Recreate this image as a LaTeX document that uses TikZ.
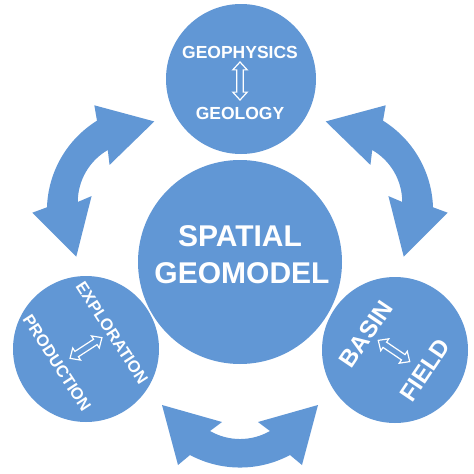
\documentclass[tikz,border=0pt]{standalone}
\usepackage{fontspec}
\setmainfont{Liberation Sans}
\usetikzlibrary{shapes.arrows}
\definecolor{geoblue}{RGB}{97,151,213}
\tikzset{
  bubble/.style={circle, fill=geoblue, draw=none, inner sep=0pt},
  lbl/.style={text=white, font=\bfseries, inner sep=0pt},
  dbl/.style={double arrow, fill=geoblue, draw=white, line width=1.2pt,
    minimum height=38pt, inner sep=2.6pt, double arrow head extend=4pt,
    double arrow tip angle=85},
  bigarrow/.style={fill=geoblue, draw=none}
}
\begin{document}
\begin{tikzpicture}[x=1pt,y=-1pt]
\fill[white] (0,0) rectangle (474,474);
\useasboundingbox (0,0) rectangle (474,474);

% curved double arrows (one template, rotated)
\foreach \ang in {0,120,-120}{
  \begin{scope}[rotate around={\ang:(240,261)}]
    \path[bigarrow] (162,405) -- (222,422) -- (210,431)
      .. controls (228.6,441.7) and (251.4,441.7) .. (270,431)
      -- (258,422) -- (318,405) -- (302,465) -- (290,455)
      .. controls (258.8,471.7) and (221.2,471.7) .. (190,455)
      -- (178,465) -- cycle;
  \end{scope}
}

% circles
\node[bubble, minimum size=204pt] (centre) at (240,262) {};
\node[bubble, minimum size=150pt] (top) at (241,79) {};
\node[bubble, minimum size=146pt] (left) at (86,349) {};
\node[bubble, minimum size=146pt] (right) at (395,350) {};

% centre text
\node[lbl, anchor=base, font=\bfseries\fontsize{30}{36}\selectfont] (spatial) at (240,246) {SPATIAL};
\node[lbl, anchor=base, font=\bfseries\fontsize{30}{36}\selectfont] (geomodel) at (242,283) {GEOMODEL};

% top circle
\node[lbl, anchor=base, font=\bfseries\fontsize{17.5}{21}\selectfont] (geoph) at (240,58) {GEOPHYSICS};
\node[lbl, anchor=base, font=\bfseries\fontsize{17.5}{21}\selectfont] (geol) at (240,119) {GEOLOGY};
\node[dbl, rotate=90] (toparrow) at (240,81) {};

% left circle
\node[lbl, rotate=-57, font=\bfseries\fontsize{16.5}{20}\selectfont] (explo) at (112,333) {EXPLORATION};
\node[lbl, rotate=-57, font=\bfseries\fontsize{16.5}{20}\selectfont] (prod) at (57,363) {PRODUCTION};
\node[dbl, rotate=33] (leftarrow) at (86,348) {};

% right circle
\node[lbl, rotate=56, font=\bfseries\fontsize{24}{28}\selectfont] (basin) at (366,334) {BASIN};
\node[lbl, rotate=56, font=\bfseries\fontsize{24}{28}\selectfont] (field) at (425,370) {FIELD};
\node[dbl, rotate=-34] (rightarrow) at (394,351) {};
\end{tikzpicture}
\end{document}
